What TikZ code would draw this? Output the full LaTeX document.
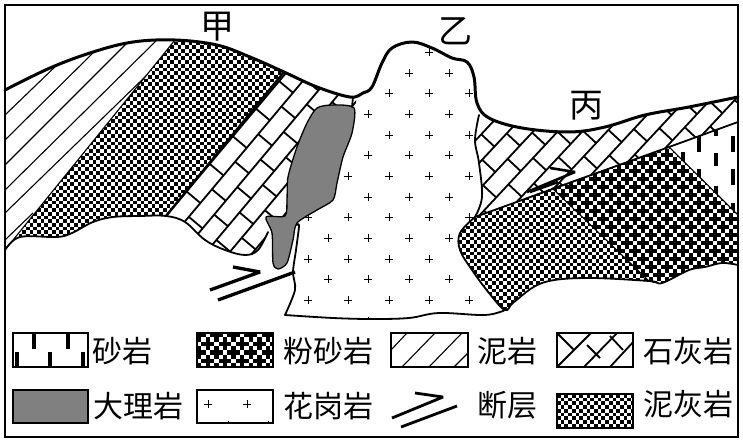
\documentclass[tikz,border=0pt]{standalone}
\usepackage{fontspec}
\newfontfamily\cjk{Noto Sans CJK SC}
\tikzset{
  every picture/.style={x=1pt,y=-1pt},
  rocklabel/.style={inner sep=0pt,font=\cjk\fontsize{30}{30}\selectfont,text=black},
  namelabel/.style={inner sep=0pt,font=\cjk\fontsize{34}{34}\selectfont,text=black},
  thickline/.style={line width=3pt,line join=round,line cap=round},
  edgeline/.style={line width=1.8pt,line join=round,line cap=round},
  brick/.style={line width=1.8pt},
  hatch/.style={line width=1.1pt},
  legbox/.style={line width=1.9pt},
  plusmark/.style={line width=0.75pt},
  sanddash/.style={line width=3.8pt},
  faultline/.style={line width=3.3pt},
}
\definecolor{marble}{gray}{0.5}
% checker pattern: xmin xmax ymin ymax
\newcommand{\chkpat}[4]{%
  \pgfmathtruncatemacro\nrows{(#4-#3)/3.7+1}%
  \foreach \j in {0,...,\nrows}{%
    \pgfmathsetmacro\yy{#3+\j*3.7+1.85}%
    \pgfmathsetmacro\ph{mod(\j,2)*3.7}%
    \draw[line width=3.7pt,dash pattern=on 3.7pt off 3.7pt,dash phase=\ph pt] (#1,\yy)--(#2,\yy);
  }}
% silt pattern: xmin xmax ymin ymax cell
\newcommand{\siltpat}[5]{%
  \fill (#1,#3) rectangle (#2,#4);
  \pgfmathtruncatemacro\nrows{(#4-#3)/#5+1}%
  \foreach \j in {0,...,\nrows}{%
    \pgfmathsetmacro\yy{#3+\j*#5+#5/2}%
    \pgfmathtruncatemacro\mm{mod(\j,4)}%
    \pgfmathsetmacro\cc{#5}%
    \pgfmathsetmacro\tt{3*#5}%
    \pgfmathsetmacro\dd{2*#5}%
    \ifodd\j
      \draw[white,line width=\cc pt,dash pattern=on \cc pt off \cc pt,dash phase=\cc pt] (#1,\yy)--(#2,\yy);
    \else
      \ifnum\mm=0
        \draw[white,line width=\cc pt,dash pattern=on \cc pt off \tt pt,dash phase=\dd pt] (#1,\yy)--(#2,\yy);
      \else
        \draw[white,line width=\cc pt,dash pattern=on \cc pt off \tt pt] (#1,\yy)--(#2,\yy);
      \fi
    \fi
  }}
\newcommand{\gplus}[2]{\draw[plusmark] (#1-4,#2)--(#1+4,#2) (#1,#2-4)--(#1,#2+4);}
\begin{document}
\begin{tikzpicture}
\useasboundingbox (0,0) rectangle (743,443);
\fill[white] (0,0) rectangle (743,443);

% --- mudstone wedge
\begin{scope}
\clip (5,90) -- plot[smooth,tension=.6] coordinates {(5,90) (50,68) (93,52) (133,42) (175,40)} -- (5,250) -- cycle;
\draw[hatch] (5,115)--(60,62) (5,140)--(100,46) (5,165)--(130,40) (5,190)--(160,37) (5,213)--(147,75) (5,240)--(33,213);
\end{scope}

% --- marl block on the left
\begin{scope}
\clip (175,40) -- plot[smooth,tension=.6] coordinates {(175,40) (217,45) (250,57) (284,72)} -- (166,216)
  -- plot[smooth,tension=.6] coordinates {(166,216) (140,216) (113,217) (93,222) (72,233) (57,237) (20,237) (5,250)} -- cycle;
\chkpat{0}{290}{38}{255}
\end{scope}

% --- limestone 1
\begin{scope}
\clip (284,72) -- plot[smooth,tension=.6] coordinates {(284,72) (317,87) (350,97) (356,97)} -- (356,110) -- (290,215) -- (268,232)
  -- plot[smooth,tension=.6] coordinates {(268,232) (258,250) (245,255) (225,250) (205,240) (185,222) (166,216)} -- cycle;
\begin{scope}[shift={(166,216)},x={(0.643pt,0.766pt)},y={(0.766pt,-0.643pt)}]
\foreach \k in {0,...,7}{%
  \draw[brick] (-50,{\k*18})--(300,{\k*18});
  \foreach \n in {-5,...,8}{%
    \draw[brick] ({32+\k*18+\n*36},{\k*18})--({32+\k*18+\n*36},{(\k+1)*18});
  }
}
\end{scope}
\end{scope}

% --- granite crosses
\begin{scope}
\clip (355,97) -- plot[smooth,tension=.6] coordinates {(355,97) (363,93) (372,87) (382,63) (392,48) (412,42) (432,48) (452,58) (467,62) (474,77) (477,103) (479,115)} 
  -- plot[smooth,tension=.6] coordinates {(479,115) (475,140) (479,163) (482,197) (475,217)}
  -- (460,233) -- (460,250) -- (472,270) -- (489,293) -- (505,310)
  -- plot[smooth,tension=.6] coordinates {(505,310) (485,315) (439,313) (409,318) (372,319) (333,318) (285,315)}
  -- (295,290) -- (293,272) -- (297,225) -- (285,215) -- cycle;
\foreach \px/\py in {429/52,409/73,449/73,389/93,429/93,469/93,368/114,409/114,449/114,
  389/135,429/135,469/135,368/155,409/155,449/155,348/176,389/176,429/176,469/176,
  368/197,409/197,449/197,308/217,348/217,389/217,429/217,469/217,
  328/238,368/238,409/238,449/238,308/259,348/259,389/259,429/259,
  328/279,368/279,409/279,449/279,308/300,348/300,389/300,429/300,469/300,
  328/321,368/321,409/321,449/321}{\gplus{\px}{\py}}
\end{scope}

% --- limestone 2
\begin{scope}
\clip (479,115) -- plot[smooth,tension=.6] coordinates {(479,115) (489,118) (522,128) (569,132) (605,127) (645,115) (689,107) (738,97)} -- (738,122) -- (669,147) -- (475,217)
  -- plot[smooth,tension=.6] coordinates {(475,217) (482,197) (479,163) (475,140) (479,115)} -- cycle;
\begin{scope}[shift={(533,158)},x={(0.682pt,0.731pt)},y={(0.731pt,-0.682pt)}]
\foreach \k in {-5,...,6}{%
  \draw[brick] (-150,{\k*18})--(300,{\k*18});
  \foreach \n in {-6,...,8}{%
    \draw[brick] ({\k*18+\n*36},{\k*18})--({\k*18+\n*36},{(\k+1)*18});
  }
}
\end{scope}
\end{scope}

% --- sandstone
\begin{scope}
\clip (669,147) -- (738,122) -- (738,215) -- cycle;
\draw[sanddash] (699,136)--(699,152) (699,169)--(699,185) (733,136)--(733,152) (733,169)--(733,185) (733,203)--(733,219)
  (716,119)--(716,136) (716,153)--(716,166) (716,186)--(716,200) (683,152)--(683,166);
\end{scope}

% --- marl blob
\begin{scope}
\clip (552,188) -- (475,217)
  -- plot[smooth,tension=.6] coordinates {(475,217) (460,233) (460,250) (472,270) (489,293) (505,310) (514,302) (542,283) (585,278) (649,281)} -- cycle;
\chkpat{455}{660}{185}{315}
\end{scope}

% --- silt block
\begin{scope}
\clip (552,188) -- (669,147) -- (738,215) -- (738,265)
  -- plot[smooth,tension=.6] coordinates {(738,265) (722,263) (705,267) (689,270) (662,283) (649,281)} -- cycle;
\siltpat{545}{740}{145}{290}{4}
\end{scope}

% --- marble
\fill[marble] plot[smooth cycle,tension=.45] coordinates {(354,108) (333,105) (317,108) (307,123) (297,147) (288,177) (287,200) (285,216) (266,217) (272,233) (273,263) (278,269) (287,263) (293,240) (297,223) (317,210) (333,200) (337,183) (343,157) (352,133)};
\draw[edgeline,line width=1.3pt] plot[smooth cycle,tension=.45] coordinates {(354,108) (333,105) (317,108) (307,123) (297,147) (288,177) (287,200) (285,216) (266,217) (272,233) (273,263) (278,269) (287,263) (293,240) (297,223) (317,210) (333,200) (337,183) (343,157) (352,133)};

% --- outlines
\draw[thickline] plot[smooth,tension=.6] coordinates {(5,90) (50,68) (93,52) (133,42) (175,40) (217,45) (250,57) (284,72) (317,87) (350,97) (363,93) (372,87) (382,63) (392,48) (412,42) (432,48) (452,58) (467,62) (474,77) (477,103) (489,118) (522,128) (569,132) (605,127) (645,115) (689,107) (738,97)};
\draw[line width=1.1pt] (5,250)--(175,40);
\draw[line width=2.4pt] (284,72)--(166,216);
\draw[edgeline] plot[smooth,tension=.6] coordinates {(5,250) (20,237) (57,237) (72,233) (93,222) (113,217) (140,216) (166,216) (185,222) (205,240) (225,250) (245,255) (258,250) (268,232)};
\draw[edgeline] (353,97)--(352,107);
\draw[edgeline] plot[smooth,tension=.5] coordinates {(297,225) (299,226) (296,250) (293,272) (295,290) (285,315)} -- plot[smooth,tension=.6] coordinates {(285,315) (333,318) (372,319) (409,318) (439,313) (485,315) (505,310)};
\draw[edgeline] plot[smooth,tension=.6] coordinates {(479,115) (475,140) (479,163) (482,197) (475,217)};
\draw[edgeline] (738,122)--(669,147)--(475,217);
\draw[edgeline] plot[smooth,tension=.6] coordinates {(475,217) (460,233) (460,250) (472,270) (489,293) (505,310) (514,302) (542,283) (585,278) (649,281) (662,283) (689,270) (705,267) (722,263) (738,265)};
\draw[line width=1.1pt] (552,188)--(649,281);
\draw[line width=1.1pt] (669,147)--(738,215);

% --- faults
\draw[faultline,miter limit=3] (210,290)--(260,272)--(233,267);
\draw[faultline] (218,300)--(295,272);
\draw[line width=2.6pt,miter limit=3] (527,192)--(575,172)--(550,168);
\draw[line width=2.6pt] (530,192)--(558,182);

% --- place names
\node[namelabel] (jia) at (217,27) {甲};
\node[namelabel] (yi) at (455,31) {乙};
\node[namelabel] (bing) at (586,106) {丙};

% --- legend: sandstone
\draw[line width=3.4pt] (34,333)--(34,349) (68,333)--(68,349) (17,352)--(17,367) (50,352)--(50,367) (83,352)--(83,367);
\draw[legbox] (13,333) rectangle (88,367);
\node[rocklabel,anchor=west] (l1) at (92,351) {砂岩};
% silt
\begin{scope}
\clip (197,333) rectangle (273,367);
\siltpat{197}{273}{333}{367}{4.3}
\end{scope}
\draw[line width=2.4pt] (197,333) rectangle (273,367);
\node[rocklabel,anchor=west] (l2) at (283,351) {粉砂岩};
% mudstone
\draw[hatch] (391,350)--(407,333) (402,367)--(435,333) (429,367)--(462,333) (454,367)--(468,353);
\draw[legbox] (391,333) rectangle (468,367);
\node[rocklabel,anchor=west] (l3) at (477,351) {泥岩};
% limestone
\begin{scope}
\clip (557,333) rectangle (633,367);
\draw[brick] (557,367)--(592,332) (584,367)--(618,332) (610,367)--(635,340)
  (558,334)--(573,349) (587,345)--(600,358) (610,336)--(623,350);
\end{scope}
\draw[legbox] (557,333) rectangle (633,367);
\node[rocklabel,anchor=west] (l4) at (643,351) {石灰岩};
% marble
\fill[marble] (13,390) rectangle (88,423);
\draw[line width=2.2pt] (13,390) rectangle (88,423);
\node[rocklabel,anchor=west] (l5) at (93,406) {大理岩};
% granite
\begin{scope}
\clip (197,390) rectangle (273,423);
\gplus{208}{404}\gplus{247}{404}\gplus{228}{425}\gplus{268}{425}
\end{scope}
\draw[legbox] (197,390) rectangle (273,423);
\node[rocklabel,anchor=west] (l6) at (283,406) {花岗岩};
% fault
\draw[line width=2.8pt,miter limit=3] (392,418)--(443,397)--(415,393);
\draw[line width=2.8pt] (401,427)--(457,406);
\node[rocklabel,anchor=west] (l7) at (477,405) {断层};
% marl
\begin{scope}
\clip (557,394) rectangle (633,428);
\chkpat{557}{633}{394}{428}
\end{scope}
\draw[line width=2.2pt] (557,394) rectangle (633,428);
\node[rocklabel,anchor=west] (l8) at (643,404) {泥灰岩};

% --- frame
\draw[line width=2.4pt] (5,5) rectangle (738,437);
\end{tikzpicture}
\end{document}
